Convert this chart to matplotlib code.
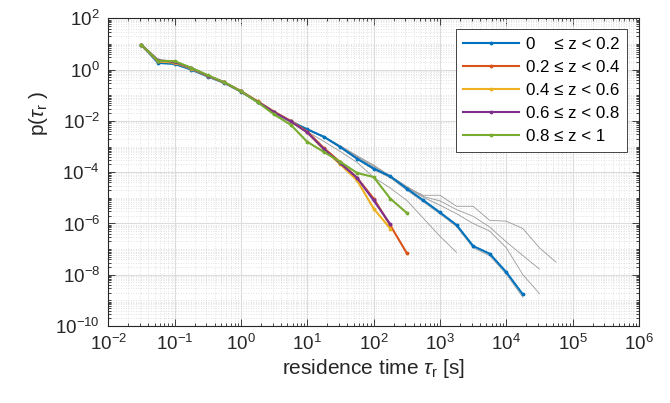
import numpy as np
import matplotlib
matplotlib.use('Agg')
import matplotlib.pyplot as plt
from matplotlib.ticker import LogLocator, FixedLocator, NullFormatter

plt.rcParams['font.family'] = ['Liberation Sans', 'DejaVu Sans']
plt.rcParams['mathtext.fontset'] = 'custom'
plt.rcParams['mathtext.rm'] = 'Liberation Sans'
plt.rcParams['mathtext.it'] = 'Liberation Sans:italic'
plt.rcParams['mathtext.default'] = 'regular'
plt.rcParams['axes.unicode_minus'] = False

# residence time bins [s]
tau = [0.0316, 0.0562, 0.1, 0.178, 0.316, 0.562, 1.0, 1.78, 3.16, 5.62,
       10.0, 17.8, 31.6, 56.2, 100.0, 178.0, 316.0, 562.0, 1000.0, 1778.0,
       3162.0, 5623.0, 10000.0, 17783.0, 31623.0, 56234.0]

# log10 p(tau) per depth class
p_z0 = [0.96, 0.26, 0.22, 0.0, -0.27, -0.52, -0.86, -1.26, -1.67, -2.02,
        -2.33, -2.62, -3.02, -3.47, -3.86, -4.16, -4.64, -5.10, -5.57, -6.06,
        -6.88, -7.18, -7.90, -8.77]
p_z1 = [0.96, 0.33, 0.28, 0.05, -0.24, -0.50, -0.84, -1.24, -1.64, -2.0,
        -2.42, -3.06, -3.62, -4.22, -5.03, -6.07, -7.16]
p_z2 = [0.96, 0.32, 0.27, 0.04, -0.25, -0.50, -0.84, -1.24, -1.66, -2.02,
        -2.45, -3.12, -3.70, -4.32, -5.42, -6.20]
p_z3 = [0.96, 0.37, 0.30, 0.06, -0.24, -0.50, -0.85, -1.25, -1.66, -2.02,
        -2.45, -3.10, -3.66, -4.22, -5.10, -6.03]
p_z4 = [0.96, 0.35, 0.33, 0.07, -0.22, -0.50, -0.85, -1.27, -1.75, -2.15,
        -2.82, -3.21, -3.60, -4.03, -4.19, -5.03, -5.59]

labels = ['0    ≤ z < 0.2', '0.2 ≤ z < 0.4', '0.4 ≤ z < 0.6',
          '0.6 ≤ z < 0.8', '0.8 ≤ z < 1']
colors = ['#0072BD', '#D95319', '#EDB120', '#7E2F8E', '#77AC30']

# grey reference curves, starting at tau = 5.62 s (index 9)
g_start = 9
grey_1 = [-2.02, -2.34, -2.65, -3.05, -3.50, -3.90, -4.22, -4.70, -5.16,
          -5.63, -6.12, -6.95, -7.26, -7.98, -8.88]
grey_2 = [-2.02, -2.32, -2.62, -3.0, -3.42, -3.80, -4.20, -4.60, -4.98,
          -5.29, -5.62, -6.0, -6.30, -6.95, -8.0, -8.74]
grey_3 = [-2.02, -2.32, -2.62, -2.98, -3.38, -3.76, -4.15, -4.55, -4.95,
          -5.12, -5.46, -5.72, -6.14, -6.72, -7.25, -7.78]
grey_4 = [-2.02, -2.32, -2.62, -2.98, -3.36, -3.72, -4.15, -4.60, -4.90,
          -4.90, -5.33, -5.33, -5.88, -5.91, -6.20, -6.95, -7.51]
grey_5 = [-2.05, -2.42, -2.80, -3.20, -3.62, -4.20, -4.62, -5.10, -5.80,
          -6.50, -7.13]

fig = plt.figure(figsize=(6.7, 4.03), dpi=100)
ax = fig.add_axes([0.1617, 0.191, 0.7920, 0.7635])

for g in [grey_1, grey_2, grey_3, grey_4, grey_5]:
    t = tau[g_start:g_start + len(g)]
    ax.plot(t, 10.0 ** np.array(g), color='#999999', lw=0.6)

for p, c, lab in zip([p_z0, p_z1, p_z2, p_z3, p_z4], colors, labels):
    ax.plot(tau[:len(p)], 10.0 ** np.array(p), color=c, lw=1.5,
            marker='.', markersize=3.5, label=lab)

ax.set_xscale('log')
ax.set_yscale('log')
ax.set_xlim(1e-2, 1e6)
ax.set_ylim(1e-10, 1e2)

ax.xaxis.set_major_locator(FixedLocator([10.0 ** k for k in range(-2, 7)]))
ax.yaxis.set_major_locator(FixedLocator([10.0 ** k for k in range(-10, 3, 2)]))
ax.xaxis.set_minor_locator(LogLocator(base=10, subs=np.arange(1, 10), numticks=50))
ax.yaxis.set_minor_locator(LogLocator(base=10, subs=np.arange(1, 10), numticks=50))
ax.xaxis.set_minor_formatter(NullFormatter())
ax.yaxis.set_minor_formatter(NullFormatter())

ax.grid(True, which='major', color='#dcdcdc', lw=0.8, ls='-')
ax.grid(True, which='minor', color='#d8d8d8', lw=0.6, ls=(0, (1, 2)))
ax.set_axisbelow(True)

ax.tick_params(which='both', direction='in', top=True, right=True,
               labelsize=13.5, colors='#262626', pad=6)
ax.tick_params(which='major', length=5, width=0.6)
ax.tick_params(which='minor', length=2.5, width=0.6)
for s in ax.spines.values():
    s.set_color('#262626')
    s.set_linewidth(0.8)

ax.set_xlabel(r'residence time $\mathit{\tau}_\mathrm{r}$ [s]', fontsize=15,
              color='#262626', labelpad=2)
ax.set_ylabel(r'p($\mathit{\tau}_\mathrm{r}$ )', fontsize=15, color='#262626')
ax.yaxis.set_label_coords(-0.11, 0.69)

leg = ax.legend(loc='upper right', bbox_to_anchor=(0.978, 0.965),
                borderaxespad=0, fontsize=12.2, fancybox=False,
                framealpha=1, edgecolor='#262626', handlelength=3.3,
                labelspacing=0.48, borderpad=0.45, handletextpad=0.4)
leg.get_frame().set_linewidth(0.6)

fig.savefig('out.png', dpi=100)
